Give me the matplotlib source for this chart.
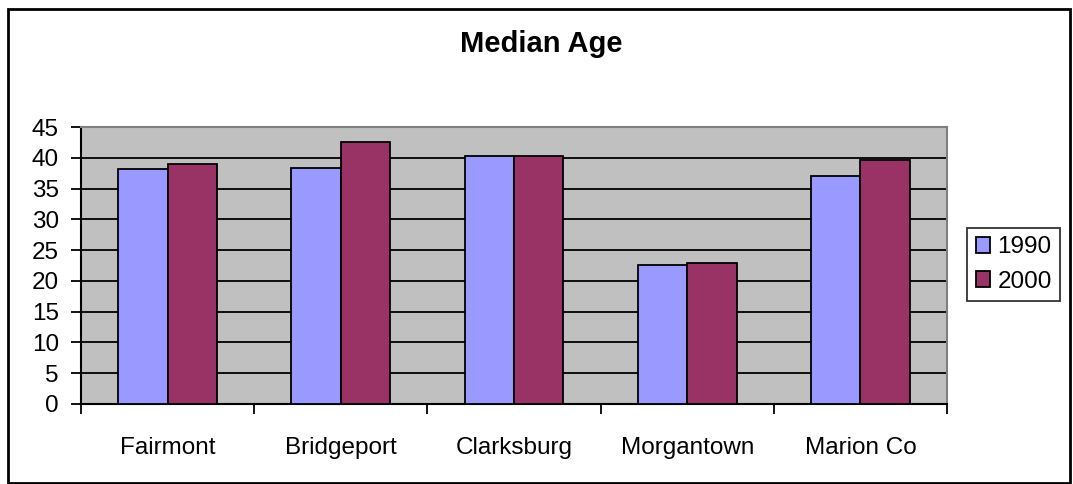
import numpy as np
import matplotlib
matplotlib.use("Agg")
from matplotlib import pyplot as plt
from matplotlib.patches import Rectangle

plt.rcParams['font.family'] = ['Liberation Sans', 'DejaVu Sans']

cities = ["Fairmont", "Bridgeport", "Clarksburg", "Morgantown", "Marion Co"]
age_1990 = [38.2, 38.4, 40.3, 22.6, 37.1]
age_2000 = [39.0, 42.6, 40.3, 22.9, 39.7]
series_names = ["1990", "2000"]
yticks = [0, 5, 10, 15, 20, 25, 30, 35, 40, 45]

fig = plt.figure(figsize=(10.73, 4.84), dpi=100)
W, H = 1073, 484

# outer chart border
fig.patches.append(Rectangle((8 / W, 1 - 483 / H), 1062 / W, 474 / H,
                             transform=fig.transFigure, fill=False,
                             edgecolor="black", linewidth=2))

ax = fig.add_axes([81 / W, 1 - 404 / H, 866 / W, 277 / H])
ax.set_facecolor("#C0C0C0")

x = np.arange(len(cities))
w = 1 / 3.5
ax.bar(x - w / 2, age_1990, w, color="#9999FF", edgecolor="black", linewidth=1.3,
       label=series_names[0], zorder=3)
ax.bar(x + w / 2, age_2000, w, color="#993366", edgecolor="black", linewidth=1.3,
       label=series_names[1], zorder=3)

ax.set_xlim(-0.5, len(cities) - 0.5)
ax.set_ylim(0, 45)
ax.set_yticks(yticks)
ax.yaxis.grid(True, color="black", linewidth=1.3, zorder=1)
ax.set_axisbelow(True)

ax.set_xticks(x)
ax.set_xticklabels(cities)
ax.set_xticks(np.arange(len(cities) + 1) - 0.5, minor=True)
ax.tick_params(axis="x", which="major", length=0, pad=24, labelsize=17.5)
ax.tick_params(axis="x", which="minor", length=7, width=1.3, direction="out")
ax.tick_params(axis="y", length=7, width=1.3, direction="out", pad=9, labelsize=17.5)

for side in ["top", "right"]:
    ax.spines[side].set_color("#808080")
    ax.spines[side].set_linewidth(1.5)
for side in ["left", "bottom"]:
    ax.spines[side].set_color("black")
    ax.spines[side].set_linewidth(1.5)

fig.text(541 / W, 1 - 44 / H, "Median Age", ha="center", va="center",
         fontsize=21, fontweight="bold")

leg = fig.legend(loc="center left", bbox_to_anchor=(967 / W, 1 - 264.5 / H),
                 fontsize=17.5, frameon=True, fancybox=False, shadow=False,
                 handlelength=0.6, handleheight=0.6, handletextpad=0.3,
                 borderpad=0.35, labelspacing=0.5, borderaxespad=0)
leg.get_frame().set_edgecolor("black")
leg.get_frame().set_linewidth(1.3)

fig.savefig("out.png", dpi=100)
